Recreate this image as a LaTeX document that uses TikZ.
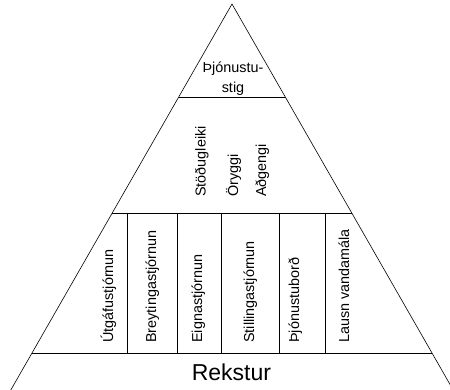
\documentclass[tikz,border=0pt]{standalone}
\usepackage{fontspec}
\setmainfont{Liberation Sans}
\begin{document}
\begin{tikzpicture}[x=1pt,y=-1pt,line width=0.6pt,
  lbl/.style={font=\fontsize{14.4}{20}\selectfont,inner sep=0pt,align=center},
  vlbl/.style={lbl,rotate=90,anchor=base west},
  big/.style={font=\fontsize{23}{27}\selectfont,inner sep=0pt,anchor=base west}]
\useasboundingbox (0,0) rectangle (450,390);
% side points
\coordinate (apex) at (232,4);
\coordinate (bl) at (10.8,390);
\coordinate (br) at (453.2,390);
\coordinate (a1) at (178.7,97);  \coordinate (b1) at (285.3,97);
\coordinate (a2) at (112.2,213); \coordinate (b2) at (351.8,213);
\coordinate (a3) at (31.8,353);  \coordinate (b3) at (432.2,353);
\begin{scope}
\clip (0,0) rectangle (450,390);
\draw (bl) -- (apex) -- (br);
\end{scope}
\draw (a1) -- (b1);
\draw (a2) -- (b2);
\draw (a3) -- (b3);
\foreach \i/\x in {1/127,2/177,3/221,4/279,5/325}{
  \coordinate (t\i) at (\x,213);
  \coordinate (u\i) at (\x,353);
  \draw (t\i) -- (u\i);
}
\node[lbl,anchor=base] (top) at (233,93) {Þjónustu-\\stig};
\node[vlbl] (m1) at (205.5,197) {Stöðugleiki};
\node[vlbl] (m2) at (238,197) {Öryggi};
\node[vlbl] (m3) at (266,197) {Aðgengi};
\node[vlbl] (c1) at (113,343) {Útgáfustjórnun};
\node[vlbl] (c2) at (156,343) {Breytingastjórnun};
\node[vlbl] (c3) at (202,343) {Eignastjórnun};
\node[vlbl] (c4) at (254,343) {Stillingastjórnun};
\node[vlbl] (c5) at (299,343) {Þjónustuborð};
\node[vlbl] (c6) at (349,343) {Lausn vandamála};
\node[big] (rek) at (191.5,380) {Rekstur};
\end{tikzpicture}
\end{document}
